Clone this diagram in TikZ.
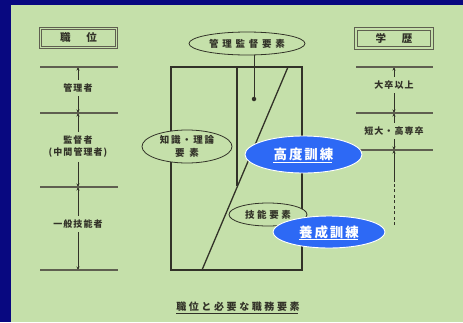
\documentclass[tikz,border=0pt]{standalone}
\usepackage{fontspec}
\newfontfamily\jpA[LetterSpace=12]{Noto Sans CJK JP}
\newfontfamily\jpB[LetterSpace=40]{Noto Sans CJK JP}
\newfontfamily\jpC[LetterSpace=18]{Noto Sans CJK JP}
\newfontfamily\jpD[LetterSpace=28]{Noto Sans CJK JP}
\newfontfamily\jpT[LetterSpace=14]{Noto Sans CJK JP}
\newfontfamily\jpE[LetterSpace=26]{Noto Sans CJK JP}
\newfontfamily\jpH{Noto Sans CJK JP}
\usetikzlibrary{arrows.meta,shapes.geometric}
\definecolor{bgblue}{RGB}{8,8,128}
\definecolor{paper}{RGB}{197,224,170}
\definecolor{ink}{RGB}{50,50,40}
\definecolor{rulec}{RGB}{95,95,80}
\definecolor{trainblue}{RGB}{45,105,245}
\begin{document}
\begin{tikzpicture}[x=1pt,y=-1pt,
  lbl/.style={font=\jpA\bfseries\fontsize{9}{12}\selectfont, text=ink, inner sep=1pt, outer sep=3pt, align=center},
  hrule/.style={draw=rulec, line width=2.2pt},
  tick/.style={draw=ink, line width=0.9pt, -{Stealth[length=3.5pt,width=3pt]}},
  headbox/.style={draw=rulec, line width=1.2pt, double=paper, double distance=1.1pt,
    minimum width=76pt, minimum height=19pt, inner sep=0pt,
    font=\jpH\bfseries\fontsize{10.5}{12}\selectfont, text=ink},
  elem/.style={ellipse, draw=ink, line width=0.8pt, fill=paper, inner sep=0pt, text=ink, align=center},
  train/.style={ellipse, draw=white, line width=0.9pt, fill=trainblue, inner sep=0pt,
    text=white, font=\jpT\bfseries\fontsize{13.5}{15}\selectfont},
  traintext/.style={inner sep=0pt, text=white, font=\jpT\bfseries\fontsize{13.5}{15}\selectfont},
  uline/.style={line width=1.1pt},
  frame/.style={draw=ink, line width=1.3pt}
]
\useasboundingbox (0,0) rectangle (463,322);
\fill[bgblue] (0,0) rectangle (463,322);
\fill[paper] (11,5) rectangle (463,322);

% ---------- left column ----------
\node[headbox] (hL) at (78.5,38) {職\hspace{16pt}位};
\foreach \n/\y in {1/67,2/113,3/187,4/270} {
  \coordinate (aL\n) at (40,\y);
  \coordinate (aR\n) at (118,\y);
  \coordinate (a\n) at (78,\y);
}
\node[lbl] (m1) at (78,88) {管理者};
\node[lbl] (m2) at (78,147) {監督者\\(中間管理者)};
\node[lbl] (m3) at (78,224) {一般技能者};
\draw[tick] (m1) -- (a1);
\draw[tick] (m1) -- (a2);
\draw[tick] (m2) -- (a2);
\draw[tick] (m2) -- (a3);
\draw[tick] (m3) -- (a3);
\draw[tick] (m3) -- (a4);
\foreach \n in {1,2,3,4} { \draw[hrule] (aL\n) -- (aR\n); }

% ---------- right column ----------
\node[headbox] (hR) at (394,38.5) {学\hspace{16pt}歴};
\foreach \n/\y in {1/67,2/113,3/150} {
  \coordinate (bL\n) at (356,\y);
  \coordinate (bR\n) at (433,\y);
  \coordinate (b\n) at (394,\y);
}
\coordinate (b4) at (394,182);
\coordinate (b5) at (394,225);
\node[lbl] (e1) at (394,85) {大卒以上};
\node[lbl] (e2) at (394,131) {短大・高専卒};
\draw[tick] (e1) -- (b1);
\draw[tick] (e1) -- (b2);
\draw[tick] (e2) -- (b2);
\draw[tick] (e2) -- (b3);
\draw[tick] (b4) -- (b3);
\draw[draw=ink, line width=0.9pt, dashed, dash pattern=on 3pt off 2.5pt] (b5) -- (b4);
\foreach \n in {1,2,3} { \draw[hrule] (bL\n) -- (bR\n); }

% ---------- centre ----------
\coordinate (rTL) at (171,67);
\coordinate (rBR) at (302,270);
\coordinate (vTop) at (237,67);
\coordinate (vBot) at (237,186);
\coordinate (dTop) at (288,67);
\coordinate (dBot) at (202,270);
\draw[frame] (rTL) rectangle (rBR);
\draw[frame] (vTop) -- (vBot);
\draw[frame] (dTop) -- (dBot);
\node[circle, fill=ink, inner sep=0pt, minimum size=4.5pt] (dot) at (254,99) {};
\coordinate (dotTop) at (254,52);
\draw[draw=ink, line width=1pt] (dot) -- (dotTop);

\node[elem, minimum width=116pt, minimum height=23pt, font=\jpB\bfseries\fontsize{9.5}{11}\selectfont] (k1) at (247,43.5) {管理監督要素};
\node[elem, minimum width=90pt, minimum height=33pt, font=\jpC\bfseries\fontsize{9.5}{12.5}\selectfont] (k2) at (187,146.5) {知識・理論\\要\hspace{5pt}素};
\node[elem, minimum width=78pt, minimum height=23pt, font=\jpD\bfseries\fontsize{9.5}{11}\selectfont] (k3) at (268,214.5) {技能要素};

\node[train, minimum width=117pt, minimum height=37pt] (t1) at (303.5,154.5) {};
\node[traintext] (t1t) at (t1.center) {高度訓練};
\draw[uline, white] ([yshift=-1pt]t1t.south west) -- ([yshift=-1pt,xshift=-1.5pt]t1t.south east);
\node[train, minimum width=112pt, minimum height=32pt] (t2) at (329,232) {};
\node[traintext] (t2t) at (t2.center) {養成訓練};
\draw[uline, white] ([yshift=-1pt]t2t.south west) -- ([yshift=-1pt,xshift=-1.5pt]t2t.south east);

\node[text=ink, inner sep=0pt, font=\jpE\bfseries\fontsize{10}{11}\selectfont] (cap) at (238,307) {職位と必要な職務要素};
\draw[uline, draw=ink, line width=0.8pt] ([yshift=-1pt]cap.south west) -- ([yshift=-1pt,xshift=-2pt]cap.south east);
\end{tikzpicture}
\end{document}
